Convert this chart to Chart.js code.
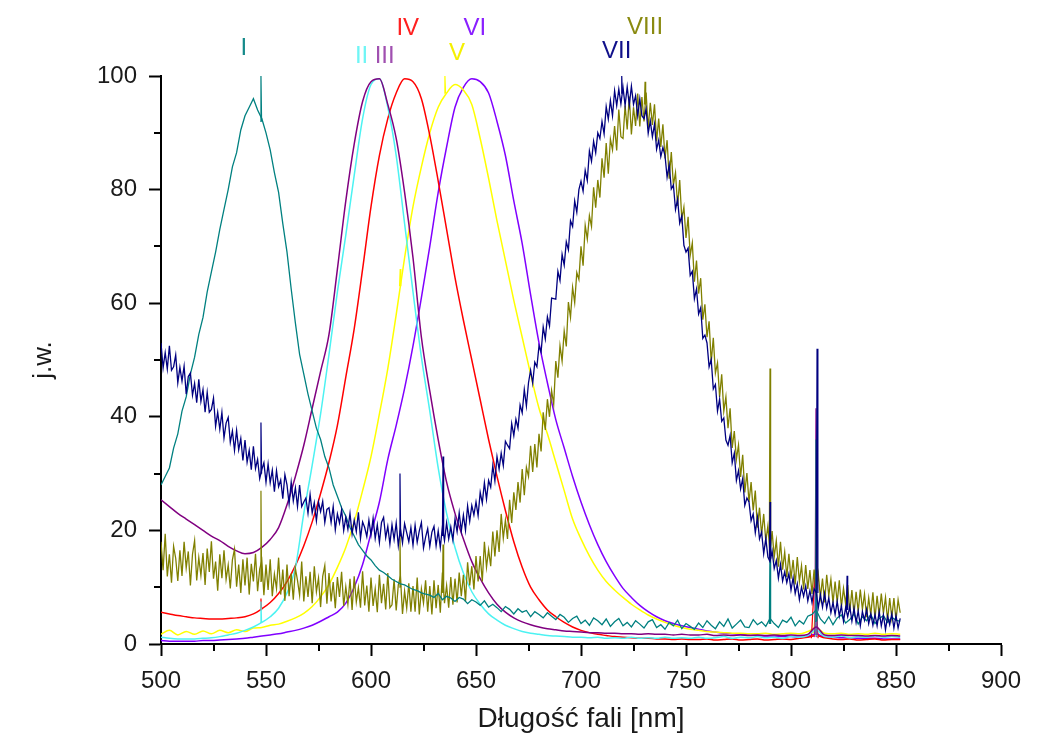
<!DOCTYPE html>
<html lang="pl">
<head>
<meta charset="utf-8">
<title>Widma emisji I–VIII</title>
<script src="https://cdn.jsdelivr.net/npm/chart.js@4.4.1/dist/chart.umd.min.js"></script>
<style>
    html, body { margin: 0; padding: 0; background: #ffffff; }
    #wrap { width: 1056px; height: 738px; }
</style>
</head>
<body>
<div id="wrap"><canvas id="spectra" width="1056" height="738"></canvas></div>
<script>
'use strict';

/**
 * Spectra data, 500 nm to 852 nm.
 * VII and VIII are sampled every 1 nm, I every 2 nm, II-VI every 4 nm.
 */
const NM_START = 500;
const NM_END = 852;

const seriesNames = ['I', 'II', 'III', 'IV', 'V', 'VI', 'VII', 'VIII'];
const seriesColors = ['#008080', '#4cf2f2', '#800080', '#ff0000', '#ffff00', '#8000ff', '#000080', '#808000'];
const labelColors = ['#158a8a', '#6ff5f5', '#a050b0', '#ff2020', '#f5f000', '#8a20ff', '#10108a', '#8a8a10'];
const sampleStep = [2, 4, 4, 4, 4, 4, 1, 1];
// position of the roman numerals above the peaks (nm, intensity)
const labelNm = [539.5, 595.5, 606.5, 617.5, 641, 649.5, 717, 730.5];
const labelLevel = [104.8, 103.4, 103.4, 108.3, 104, 108.3, 104.4, 108.5];
// lower number = drawn on top
const drawOrder = [2, 5, 4, 6, 7, 8, 1, 3];

const xTickValues = [500, 550, 600, 650, 700, 750, 800, 850, 900];
const xMinorTicks = [525, 575, 625, 675, 725, 775, 825, 875];
const yTickValues = [0, 20, 40, 60, 80, 100];
const yMinorTicks = [10, 30, 50, 70, 90];

// I (2 nm)
const intensityI = [
    28, 29.5, 31, 34.5, 37, 41, 43.5, 47.5, 50.5, 54.5, 57.5, 62, 65.5, 69, 73, 76.5,
    80, 84, 86.5, 90.5, 93, 94.5, 96, 94, 92.5, 90, 87, 83, 79.5, 74, 69, 62.5,
    56.5, 51, 47.5, 44, 41, 38, 36, 33, 31, 28, 26, 24, 22.5, 20.5, 19, 17.5,
    16.5, 15.5, 14.8, 13.8, 13, 12.6, 12, 11.4, 11, 10.6, 10.4, 10, 9.6, 9.4, 9, 8.8,
    8.6, 8.2, 8.9, 7.8, 8.4, 8.1, 7.5, 8.2, 7.9, 7.1, 7.8, 7.4, 6.8, 7.6, 6.5, 7,
    6.4, 5.7, 6.6, 6.1, 5.3, 6.2, 5.6, 5.9, 4.8, 5.7, 5.2, 4.6, 5.5, 4.9, 4.3, 5.2,
    4.7, 3.8, 4.5, 4.9, 3.6, 4.2, 3.3, 4.6, 4.1, 3.4, 4.4, 3.1, 3.9, 4.5, 3.2, 3.8,
    3, 4.1, 3.5, 2.8, 3.9, 4.3, 2.9, 3.4, 2.6, 3.8, 3.2, 4.2, 2.7, 3.6, 3.1, 2.6,
    3.7, 2.9, 4.1, 3.3, 2.7, 3.9, 3.1, 4.4, 2.8, 3.5, 4.2, 3, 2.9, 4.3, 3.4, 3.9,
    3.1, 4.5, 3.6, 2.9, 4.2, 3.8, 4.7, 3.2, 4.1, 3.5, 4.9, 5.2, 6, 4.4, 3.6, 4.8,
    3.4, 4.6, 5.1, 3.7, 4.3, 5.3, 3.5, 4.8, 4.1, 5.2, 3.6, 4.5, 5, 3.8, 4.7, 4.2, 4
];

// II (4 nm)
const intensityII = [
    1.2, 1.0, 0.9, 0.9, 0.9, 1.0, 1.1, 1.3, 1.6, 1.9, 2.4, 3.0, 3.8, 4.8, 6.3, 9.0,
    13.5, 23, 31.5, 40.5, 51, 62, 72, 82.5, 92.5, 98.5, 99.5, 94.5, 86, 74, 62, 50.5,
    41, 31, 23, 17, 12.5, 9.2, 7, 5.3, 4.2, 3.3, 2.7, 2.2, 1.9, 1.7, 1.5, 1.4,
    1.3, 1.2, 1.2, 1.1, 1.2, 1.0, 1.1, 1.0, 1.2, 1.0, 1.1, 1.0, 1.2, 1.0, 1.1, 1.0,
    1.2, 1.0, 1.1, 1.3, 1.0, 1.2, 1.1, 1.3, 1.1, 1.2, 1.0, 1.3, 1.2, 1.5, 2.5, 1.3,
    1.2, 1.4, 1.1, 1.3, 1.2, 1.4, 1.2, 1.3, 1.2
];

// III (4 nm)
const intensityIII = [
    25.4, 24.2, 23.0, 22.0, 21.0, 20.0, 19.0, 18.2, 17.2, 16.4, 15.9, 16.1, 17.0, 18.4, 20.5, 24.5,
    29.5, 35, 41.5, 48, 54.5, 66, 78, 88, 95.5, 99, 99.5, 95, 89, 79.5, 68, 54,
    44.5, 36, 28.5, 23, 18.5, 14.5, 11.5, 9, 7, 5.6, 4.6, 3.9, 3.4, 3.0, 2.7, 2.5,
    2.3, 2.2, 2.1, 2.0, 2.0, 1.9, 1.9, 1.8, 1.8, 1.7, 1.8, 1.7, 1.7, 1.6, 1.7, 1.6,
    1.6, 1.7, 1.5, 1.6, 1.5, 1.6, 1.5, 1.6, 1.5, 1.6, 1.5, 1.6, 1.5, 1.7, 3.0, 1.6,
    1.5, 1.6, 1.5, 1.5, 1.4, 1.5, 1.4, 1.5, 1.4
];

// IV (4 nm)
const intensityIV = [
    5.6, 5.3, 5.0, 4.8, 4.6, 4.5, 4.4, 4.4, 4.5, 4.6, 4.8, 5.3, 6.2, 7.3, 8.9, 11.0,
    13.8, 17.3, 21.5, 26.5, 32, 38.5, 47, 55.5, 66, 77, 86, 92.5, 97, 99.5, 99, 96,
    89.5, 81.5, 73, 64.5, 57, 50, 43, 36, 29.5, 23.5, 18, 13.5, 10, 7.8, 6, 4.8,
    3.8, 3.0, 2.4, 2.0, 1.7, 1.5, 1.3, 1.2, 1.1, 1.0, 1.0, 0.9, 0.9, 0.8, 0.9, 0.8,
    0.8, 0.9, 0.7, 0.8, 0.9, 0.7, 0.8, 0.9, 0.7, 0.8, 0.9, 0.8, 1.0, 1.2, 1.5, 1.1,
    0.9, 0.8, 0.9, 0.7, 0.8, 0.9, 0.7, 0.8, 0.8
];

// V (4 nm)
const intensityV = [
    1.7, 2.4, 1.6, 2.2, 1.7, 2.3, 1.8, 2.4, 2.0, 2.5, 2.2, 2.8, 2.9, 3.3, 3.5, 4.0,
    4.6, 5.4, 6.6, 8.3, 10.5, 13.5, 17, 21.5, 27, 33, 40.5, 48.5, 58, 68, 77, 84,
    90, 94.5, 97, 98.5, 97.5, 95, 89, 82, 74.5, 67.5, 60.5, 54, 47.5, 41.5, 37, 32,
    27, 22, 18.5, 15.5, 13, 11, 9.5, 8.2, 7, 6, 5.1, 4.4, 3.8, 3.3, 2.9, 2.6,
    2.4, 2.2, 2.1, 2.0, 1.9, 1.9, 1.8, 1.8, 1.9, 1.7, 1.8, 1.9, 1.8, 2.2, 2.8, 1.9,
    1.8, 1.9, 1.7, 1.8, 1.7, 1.9, 1.7, 1.8, 1.7
];

// VI (4 nm)
const intensityVI = [
    0.6, 0.5, 0.5, 0.5, 0.5, 0.6, 0.6, 0.7, 0.8, 0.9, 1.0, 1.2, 1.4, 1.6, 1.8, 2.1,
    2.4, 2.8, 3.3, 4.0, 4.8, 5.6, 7.2, 10, 14, 19.5, 25, 32.5, 38.5, 45, 52.5, 61,
    70, 79.5, 87.5, 94.5, 98, 99.5, 99, 97, 92, 86, 78, 70.5, 61.5, 53, 46, 39.5,
    34.5, 29.5, 25, 21, 17.5, 14.5, 12, 9.8, 8.2, 6.8, 5.7, 4.8, 4.1, 3.6, 3.2, 2.9,
    2.6, 2.3, 2.1, 1.9, 1.8, 1.7, 1.6, 1.5, 1.4, 1.4, 1.3, 1.3, 1.2, 1.3, 1.8, 1.2,
    1.2, 1.1, 1.1, 1.0, 1.0, 1.0, 0.9, 0.9, 0.9
];

// VII (1 nm), one row per 10 nm
const intensityVII = [
    53, 48.6, 51.3, 48.4, 52.5, 48.2, 48.8, 50.9, 46, 48.7,
    46.3, 48.9, 44, 47.1, 47.7, 43.8, 45.9, 42.5, 46.6, 42.7,
    44.8, 40.8, 44.3, 40.8, 41.3, 43.3, 38.3, 40.8, 37.8, 40.8,
    36.3, 38.9, 39.9, 35.5, 37.5, 34.1, 37.6, 34.2, 36.2, 32.3,
    35.9, 32, 34.1, 30.7, 34.8, 30.9, 32.5, 29.1, 30.7, 31.9,
    28.5, 31.7, 28.4, 30.6, 26.8, 30.5, 27.7, 28.9, 25.6, 29.8,
    28, 24.7, 28.5, 25.2, 27.5, 24.2, 28, 24.2, 25, 25.7,
    23, 26.3, 23.1, 24.9, 21.7, 25, 23.3, 25.1, 21.4, 23.7,
    24, 21.4, 24.2, 20.1, 22.9, 21.3, 23.6, 20, 22.3, 20.2,
    23, 19.4, 21.8, 19.8, 23.2, 18.6, 21.5, 20.5, 18.9, 21.8,
    19.2, 22.1, 18.6, 21, 17.9, 21.4, 22.3, 18.7, 20.7, 17.6,
    21, 18.4, 21.3, 17.3, 20.3, 17.8, 21.2, 19.6, 18, 20.5,
    17.4, 20.9, 17.9, 19.9, 21.4, 16.9, 18.8, 20.3, 17.2, 19.7,
    20.7, 17.3, 19.9, 17, 20.6, 18.2, 21.3, 18.5, 20.6, 18.3,
    22, 19.8, 23.1, 19.9, 22.7, 20, 24.3, 21.6, 24.4, 22.7,
    25, 22.6, 26.7, 24.8, 28.4, 25.5, 28.8, 27.6, 31.4, 28.7,
    33, 30.8, 33.6, 31.4, 35.7, 35, 34.4, 38.8, 36.7, 39.6,
    38, 42.1, 40.7, 44.8, 41.9, 46, 48.2, 45.9, 49.6, 48.8,
    52.5, 51.4, 55.8, 53.7, 57.6, 56, 60.9, 60.8, 60.7, 65.6,
    64, 68.6, 66.7, 70.8, 69.4, 74.5, 73.5, 78, 76, 80,
    81.5, 79.7, 83.4, 81.6, 86.8, 85, 88.5, 86.5, 90, 89,
    92, 89.8, 94.6, 92.4, 95.7, 93, 97.4, 94.8, 97.7, 95.1,
    98, 94.8, 98.1, 94.9, 98.2, 95, 96.5, 93, 96, 93,
    92.5, 94.2, 89.9, 92.1, 89.3, 91.5, 87.1, 88.7, 85.8, 87.4,
    86, 82.2, 84.4, 80.1, 80.8, 76.5, 78.3, 74.1, 75.4, 70.2,
    69, 69.7, 64.9, 65.6, 60.8, 62.5, 58.1, 59.2, 53.8, 54.4,
    53, 48.8, 50.1, 44.9, 45.7, 41, 43.1, 39.2, 39.8, 35.9,
    35, 36.7, 31.9, 33.6, 28.8, 30.5, 27.3, 29.1, 24.4, 25.7,
    25, 21.7, 22.9, 19.6, 22.3, 18.5, 19.7, 15.9, 18.6, 15.3,
    14.5, 16.4, 13.3, 14.7, 11.6, 14, 11.1, 12.7, 10.8, 12.4,
    9.5, 11.7, 8.9, 10.6, 7.8, 10, 8.4, 10.2, 7.6, 9.4,
    7.3, 9.7, 9.1, 6.4, 8.7, 6.5, 8.9, 6.3, 8.1, 5.5,
    7.3, 5.2, 7.5, 4.9, 6.7, 4, 6.4, 4.8, 6.6, 4,
    6.3, 3.8, 5.8, 3.2, 5.7, 4.2, 6.1, 3.6, 5.3, 3.3,
    5.2, 3.2, 5.7, 3.2, 5.1, 2.5, 4.9, 3.4, 5.3, 2.8,
    5, 2.8, 4.5
];

// VIII (1 nm), one row per 10 nm
const intensityVIII = [
    18, 13, 19.4, 11.9, 15.8, 10.8, 17.2, 15.1, 11.1, 16.5,
    12, 18, 13.4, 16.3, 10.3, 15.8, 18.2, 11.2, 15.2, 12.1,
    16, 10.4, 16.8, 12.7, 18.1, 11.5, 14.5, 9.4, 15.8, 11.6,
    16.5, 11.4, 13.9, 9.8, 14.8, 16.7, 10.1, 14, 9, 14.9,
    10.3, 15.2, 8.7, 14.1, 11, 15.9, 9.3, 13.2, 14.7, 8.6,
    14, 9.5, 14.9, 8.4, 12.3, 9.8, 15.2, 8.7, 13.1, 7.6,
    14, 8.4, 12.4, 7.8, 13.3, 11.2, 8.6, 14.5, 7.5, 11.9,
    8.3, 12.7, 7.2, 13.7, 9.2, 11.6, 6.5, 11.9, 13.8, 7.1,
    12.5, 7.5, 10.9, 6.3, 11.8, 8.3, 12.7, 6.7, 10.1, 7,
    11.5, 6, 11.9, 7.4, 9.9, 6.4, 12.8, 6.8, 10.3, 5.7,
    11.7, 6.7, 9.7, 5.6, 12.2, 7.2, 10.6, 6.1, 12.5, 6.4,
    6.9, 11.4, 5.9, 10.4, 11.9, 5.3, 9.3, 6.3, 10.7, 5.7,
    10.2, 5.7, 11.7, 5.2, 9.7, 7.2, 11.2, 5.7, 10.2, 5.2,
    11.2, 6.3, 10.4, 5.5, 12.6, 7.2, 10.3, 6.4, 11.8, 6.9,
    11.5, 7.3, 12.6, 8.4, 12.2, 7.5, 14.4, 10.3, 13.7, 9.6,
    15.5, 11, 15.5, 11, 18, 13.5, 16.6, 13.7, 19.8, 15.4,
    20, 16.2, 22.9, 18.6, 21.8, 18.5, 25.4, 21.3, 26.7, 23.6,
    28.5, 24.9, 30.8, 26.2, 31.1, 29.5, 34.9, 30.3, 35.2, 31.1,
    37, 33.9, 40.8, 37.7, 43.1, 40, 44.6, 42.2, 49.8, 46.9,
    52.5, 49.8, 55.1, 52.4, 60.2, 57.5, 62.8, 60.1, 65.4, 64.2,
    70, 66.6, 73.7, 71.3, 75.4, 73.5, 80.4, 76.8, 81.7, 78.6,
    85.5, 82.1, 88.2, 82.8, 88.9, 87, 91.2, 86.9, 94.1, 89.3,
    89, 94.8, 90.6, 96.4, 89.7, 94.5, 91.2, 96.9, 91.1, 96.3,
    92, 97.1, 90.7, 95.3, 91.4, 95, 88.5, 92.5, 87.5, 91.5,
    85.5, 88.7, 81.9, 86.6, 80.8, 83, 77.1, 81.7, 74.8, 76.9,
    71.5, 75.2, 68.4, 70.6, 63.8, 67.5, 61.7, 64.4, 57.1, 59.8,
    54, 56.8, 49.6, 53.9, 47.7, 49.5, 43.5, 47.5, 41, 43.5,
    38, 41.5, 34.5, 37.5, 32.5, 35, 29.4, 33.3, 26.7, 30.1,
    25, 28.5, 23.5, 27, 20.5, 24, 19.2, 22.9, 18.1, 20.8,
    16, 19.9, 15.3, 18.2, 13.6, 18, 13.1, 16.2, 11.8, 15.9,
    11.5, 14.8, 10.5, 15.3, 11, 13.8, 9.6, 13.9, 9.7, 13,
    8.8, 13.1, 9, 12.3, 8.2, 11.5, 7.3, 12.2, 8.5, 11.4,
    7.2, 11, 7.3, 11.2, 6.5, 9.8, 7.1, 10.4, 5.7, 9.5,
    5.3, 9.2, 5.7, 9.6, 6.1, 8.8, 4.7, 8.1, 5.1, 9.1,
    4.5, 8.5, 5, 8.9, 5.4, 8.2, 4.1, 8.1, 4.6, 8.1,
    4.2, 7.8, 5.5
];

// Narrow emission lines on top of the spectra
const spikeSeries =    [0,   0,   0,     6,     6,     6,     6,     6,   6,     6,     7,     7,     7,     7,     7,    7,     2,     1,     1,     3,     3,     4,     4,     4,     5];
const spikeNm =        [547.6, 790, 811.9, 547.6, 613.8, 634.3, 719.4, 790, 812.4, 826.7, 547.6, 613.8, 634.3, 730.5, 790,  812.2, 811.9, 547.6, 812,   547.6, 811.3, 635.2, 613.9, 811.5, 811.6];
const spikeBase =      [92,  3.5, 4,     30,    19,    19,    97,    15,  9,     6,     11,    10,    9,     95,    19,   12,    1.6,   3.8,   1.3,   6,     1,     97,    63,    1.9,   1.2];
const spikeTop =       [100, 18,  36,    39,    30,    33,    100,   25,  52,    12,    27,    20,    17.5,  99,    48.5, 30,    41.5,  7.5,   28,    8,     12,    100,   66,    5,     3];
const spikeHalfWidth = [0.3, 0.3, 0.4,   0.3,   0.3,   0.3,   0.3,   0.3, 0.4,   0.3,   0.3,   0.3,   0.3,   0.3,   0.3,  0.4,   0.5,   0.3,   0.4,   0.3,   1.6,   0.3,   0.3,   0.8,   0.6];

(function () {
    'use strict';

    var FONT = '"Liberation Sans", Arial, sans-serif';

    /**
     * Wavelength grid from NM_START to NM_END
     */
    function wavelengthGrid(step) {
        var xs = [];
        for (var x = NM_START; x <= NM_END; x += step) xs.push(x);
        return xs;
    }

    function toPoints(xs, ys) {
        return ys.map(function (y, i) {
            return { x: xs[i], y: y };
        });
    }

    var intensities = [intensityI, intensityII, intensityIII, intensityIV,
        intensityV, intensityVI, intensityVII, intensityVIII];

    var datasets = intensities.map(function (ys, i) {
        var smooth = sampleStep[i] === 4;
        return {
            label: seriesNames[i],
            data: toPoints(wavelengthGrid(sampleStep[i]), ys),
            borderColor: seriesColors[i],
            borderWidth: smooth ? 1.5 : 1.3,
            pointRadius: 0,
            tension: smooth ? 0.3 : 0,
            cubicInterpolationMode: smooth ? 'monotone' : 'default',
            order: drawOrder[i]
        };
    });

    // each emission line is a thin triangle: base -> top -> base
    spikeNm.forEach(function (nm, k) {
        var i = spikeSeries[k];
        var hw = spikeHalfWidth[k];
        datasets.push({
            label: seriesNames[i] + ' line',
            data: [
                { x: nm - hw, y: spikeBase[k] },
                { x: nm, y: spikeTop[k] },
                { x: nm + hw, y: spikeBase[k] }
            ],
            borderColor: seriesColors[i],
            borderWidth: 1.2,
            pointRadius: 0,
            tension: 0,
            order: drawOrder[i]
        });
    });

    /**
     * Short unlabelled ticks between the major ones
     */
    var minorTicksPlugin = {
        id: 'minorTicks',
        afterDraw: function (chart) {
            var ctx = chart.ctx;
            var xs = chart.scales.x;
            var ys = chart.scales.y;
            ctx.save();
            ctx.strokeStyle = '#000';
            ctx.lineWidth = 2;
            ctx.beginPath();
            xMinorTicks.forEach(function (v) {
                var px = Math.round(xs.getPixelForValue(v));
                ctx.moveTo(px, xs.top);
                ctx.lineTo(px, xs.top + 7);
            });
            yMinorTicks.forEach(function (v) {
                var py = Math.round(ys.getPixelForValue(v));
                ctx.moveTo(ys.right, py);
                ctx.lineTo(ys.right - 7, py);
            });
            ctx.stroke();
            ctx.restore();
        }
    };

    /**
     * Roman numerals naming each spectrum above its peak
     */
    var seriesLabelsPlugin = {
        id: 'seriesLabels',
        afterDraw: function (chart) {
            var ctx = chart.ctx;
            var xs = chart.scales.x;
            var ys = chart.scales.y;
            ctx.save();
            ctx.font = '24px ' + FONT;
            ctx.textAlign = 'center';
            ctx.textBaseline = 'middle';
            seriesNames.forEach(function (name, i) {
                ctx.fillStyle = labelColors[i];
                ctx.fillText(name, xs.getPixelForValue(labelNm[i]), ys.getPixelForValue(labelLevel[i]));
            });
            ctx.restore();
        }
    };

    var ctx = document.getElementById('spectra');

    new Chart(ctx.getContext('2d'), {
        type: 'line',
        data: { datasets: datasets },
        plugins: [minorTicksPlugin, seriesLabelsPlugin],
        options: {
            responsive: false,
            animation: false,
            parsing: false,
            layout: {
                padding: { top: 76, right: 55, bottom: 0, left: 0 }
            },
            plugins: {
                legend: { display: false },
                tooltip: { enabled: false }
            },
            scales: {
                x: {
                    type: 'linear',
                    min: 500,
                    max: 900,
                    afterFit: function (scale) { scale.height = 94; },
                    afterBuildTicks: function (scale) {
                        scale.ticks = xTickValues.map(function (v) { return { value: v }; });
                    },
                    grid: {
                        drawOnChartArea: false,
                        tickLength: 12,
                        tickWidth: 2,
                        tickColor: '#000'
                    },
                    border: { display: true, color: '#000', width: 2 },
                    ticks: {
                        autoSkip: false,
                        maxRotation: 0,
                        padding: 11,
                        color: '#1a1a1a',
                        font: { family: FONT, size: 24 }
                    },
                    title: {
                        display: true,
                        text: 'Długość fali [nm]',
                        color: '#1a1a1a',
                        font: { family: FONT, size: 28 },
                        padding: { top: 0, bottom: 2 }
                    }
                },
                y: {
                    type: 'linear',
                    min: 0,
                    max: 100,
                    afterFit: function (scale) { scale.width = 161; },
                    afterBuildTicks: function (scale) {
                        scale.ticks = yTickValues.map(function (v) { return { value: v }; });
                    },
                    grid: {
                        drawOnChartArea: false,
                        tickLength: 12,
                        tickWidth: 2,
                        tickColor: '#000'
                    },
                    border: { display: true, color: '#000', width: 2 },
                    ticks: {
                        padding: 12,
                        color: '#1a1a1a',
                        font: { family: FONT, size: 24 }
                    },
                    title: {
                        display: true,
                        text: 'j.w.',
                        color: '#1a1a1a',
                        font: { family: FONT, size: 26 },
                        padding: { top: 28, bottom: 0 }
                    }
                }
            }
        }
    });
})();
</script>
</body>
</html>
